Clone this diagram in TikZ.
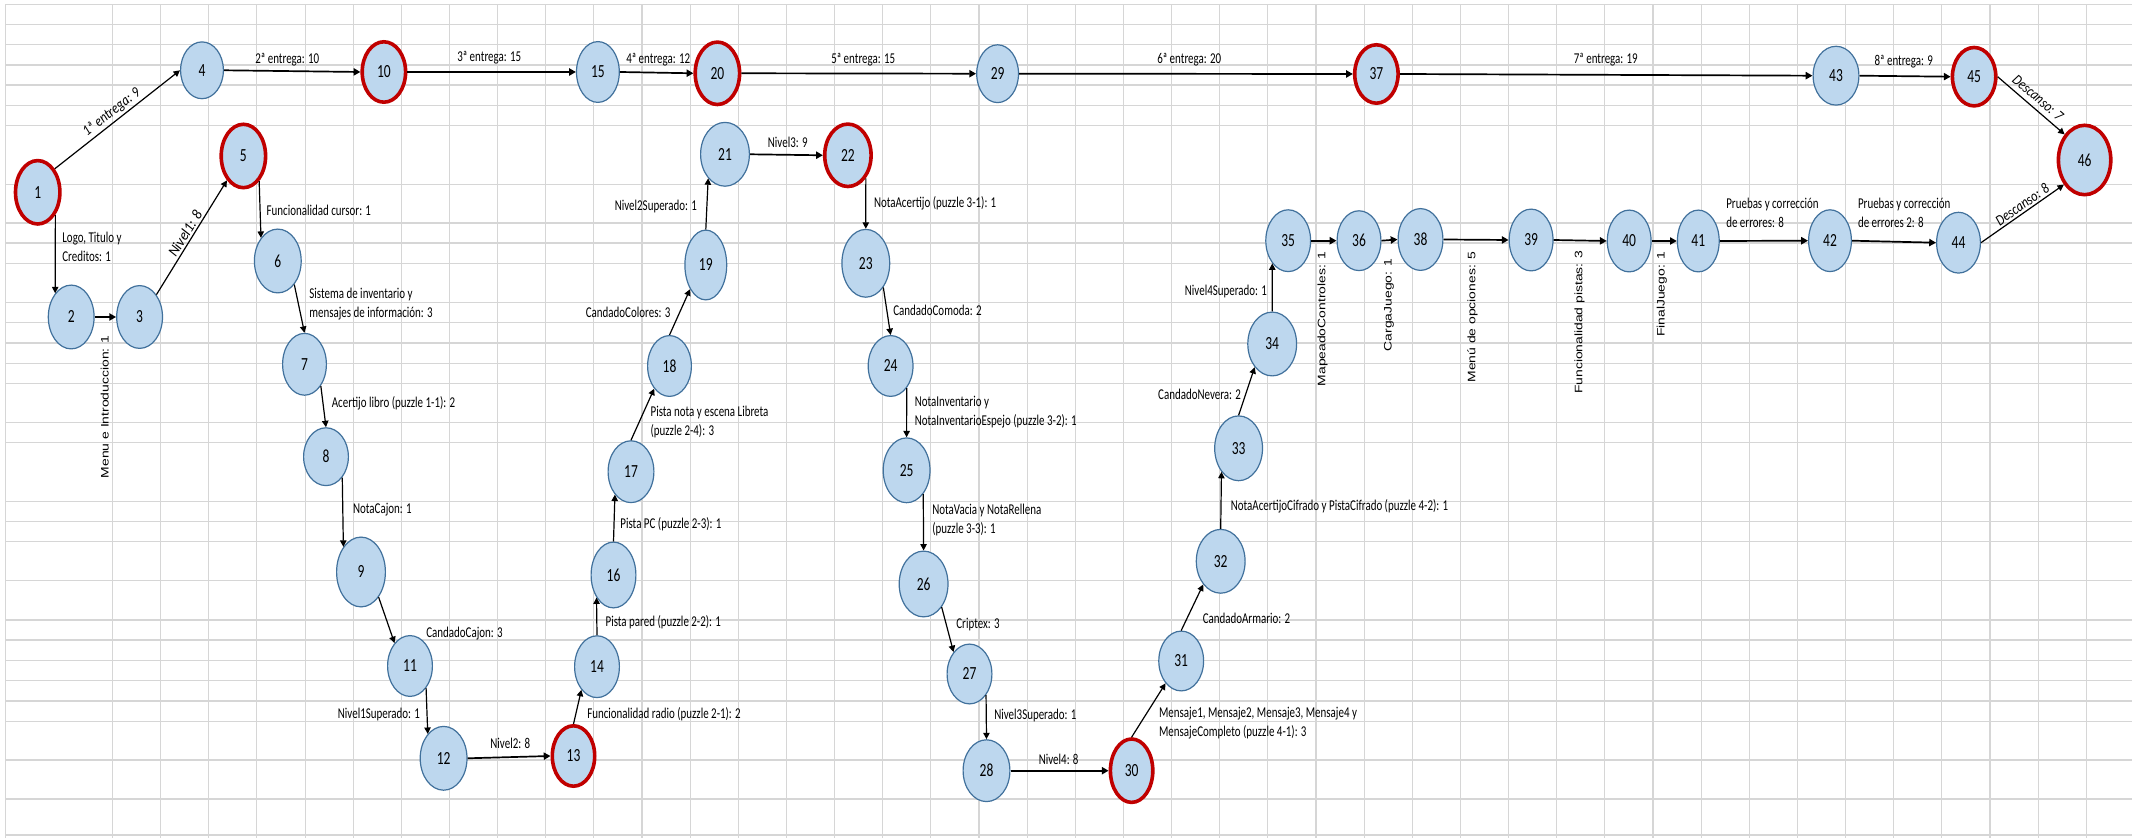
\documentclass[tikz,border=0pt]{standalone}
\usepackage{fontspec}
\setmainfont{Carlito}
\newfontfamily\rotfont{Liberation Sans}
\usetikzlibrary{arrows.meta,shapes.geometric}
\definecolor{taskfill}{RGB}{189,215,238}
\definecolor{taskline}{RGB}{65,113,156}
\definecolor{milered}{RGB}{192,0,0}
\definecolor{gridgray}{RGB}{214,214,214}
% condensed text as in the spreadsheet rendering
\newcommand\nx[1]{\scalebox{0.73}[1]{#1}}
\newcommand\vx[1]{\scalebox{1}[0.78]{#1}}
\newcommand\sx[2]{\scalebox{#1}[1]{#2}}
\begin{document}
\begin{tikzpicture}[x=0.5pt,y=-0.5pt,
  gridline/.style={draw=gridgray, line width=0.55pt},
  task/.style={ellipse, draw=taskline, fill=taskfill, line width=0.6pt,
    inner sep=0pt, font=\fontsize{9.25}{11}\selectfont},
  milestone/.style={task, draw=milered, line width=1.8pt},
  sz/.style 2 args={minimum width={#1*0.5pt-0.6pt}, minimum height={#2*0.5pt-0.6pt}},
  link/.style={draw=black, line width=0.6pt, -{Triangle[length=3.2pt,width=3.2pt]}},
  hlink/.style={link, line width=0.85pt, -{Triangle[length=3.4pt,width=3.6pt]}},
  lbl/.style={anchor=west, inner sep=0pt, align=left, font=\fontsize{7.5}{9.5}\selectfont},
  vlbl/.style={rotate=90, anchor=east, inner sep=0pt, font=\rotfont\fontsize{6.95}{8}\selectfont},
  slbl/.style={sloped, above, inner sep=1pt, font=\itshape\fontsize{7.5}{9}\selectfont}
]
\useasboundingbox (0,0) rectangle (2132,838);
\fill[white] (0,0) rectangle (2132,838);

% worksheet grid
\foreach \y in {4.3,24.3,44.3,65,85,105.3,125.7,184.3,223,243,263.3,302.3,322.7,343,363.3,383.3,422.7,442.7,501.3,521.3,541.7,580.7,620,640,660.3,680.7,701,721.3,760,799,835}
  \draw[gridline] (5.5,\y) -- (2132,\y);
\draw[gridline] (5.5,4.3) -- (5.5,838);
\foreach \k in {0,...,41}
  \draw[gridline] ({112.5+48.14*\k},4.3) -- ({112.5+48.14*\k},838);

% events
\node[milestone, sz={45.6}{64.6}] (n1) at (37.7,192.3) {\nx{1}};
\node[task, sz={47}{65}] (n2) at (71.2,317) {\nx{2}};
\node[task, sz={47}{64}] (n3) at (139.6,317) {\nx{3}};
\node[task, sz={44}{58}] (n4) at (202,70.3) {\nx{4}};
\node[milestone, sz={45.6}{64.6}] (n5) at (243.4,156) {\nx{5}};
\node[task, sz={48}{65}] (n6) at (277.8,261) {\nx{6}};
\node[task, sz={45}{63}] (n7) at (304.5,364.3) {\nx{7}};
\node[task, sz={46}{59}] (n8) at (326,456.7) {\nx{8}};
\node[task, sz={50}{71}] (n9) at (361,572) {\nx{9}};
\node[milestone, sz={44.6}{61.6}] (n10) at (383.9,72) {\nx{10}};
\node[task, sz={46}{62}] (n11) at (410,666) {\nx{11}};
\node[task, sz={48}{65}] (n12) at (443.6,758.3) {\nx{12}};
\node[milestone, sz={43.6}{61.6}] (n13) at (573.5,756) {\nx{13}};
\node[task, sz={46}{63}] (n14) at (597,666.7) {\nx{14}};
\node[task, sz={44}{62}] (n15) at (597.9,72) {\nx{15}};
\node[task, sz={46}{67}] (n16) at (613.5,575) {\nx{16}};
\node[task, sz={47}{63}] (n17) at (631,471.7) {\nx{17}};
\node[task, sz={45}{62}] (n18) at (669.5,366) {\nx{18}};
\node[task, sz={43}{71}] (n19) at (705.8,265) {\nx{19}};
\node[milestone, sz={45.6}{63.6}] (n20) at (717.4,73.3) {\nx{20}};
\node[task, sz={50}{65}] (n21) at (725,154.3) {\nx{21}};
\node[milestone, sz={47.6}{63.6}] (n22) at (847.9,155.3) {\nx{22}};
\node[task, sz={49}{69}] (n23) at (865.8,263.3) {\nx{23}};
\node[task, sz={46}{62}] (n24) at (890.6,366) {\nx{24}};
\node[task, sz={48}{66}] (n25) at (906.6,470.3) {\nx{25}};
\node[task, sz={50}{67}] (n26) at (923.6,584) {\nx{26}};
\node[task, sz={46}{61}] (n27) at (969.5,674) {\nx{27}};
\node[task, sz={48}{63}] (n28) at (986.5,770.7) {\nx{28}};
\node[task, sz={43}{59}] (n29) at (997.6,73.7) {\nx{29}};
\node[milestone, sz={43.6}{64.6}] (n30) at (1131.6,770.7) {\nx{30}};
\node[task, sz={46}{61}] (n31) at (1181.2,661) {\nx{31}};
\node[task, sz={50}{65}] (n32) at (1220.7,561.3) {\nx{32}};
\node[task, sz={49}{66}] (n33) at (1238.6,448.3) {\nx{33}};
\node[task, sz={50}{65}] (n34) at (1272.2,344) {\nx{34}};
\node[task, sz={46}{63}] (n35) at (1288.2,240.7) {\nx{35}};
\node[task, sz={45}{61}] (n36) at (1359,240.7) {\nx{36}};
\node[milestone, sz={44.6}{59.6}] (n37) at (1376.4,74) {\nx{37}};
\node[task, sz={46}{63}] (n38) at (1420.5,239.5) {\nx{38}};
\node[task, sz={45}{63}] (n39) at (1531.1,240) {\nx{39}};
\node[task, sz={45}{63}] (n40) at (1629.2,241) {\nx{40}};
\node[task, sz={43}{63}] (n41) at (1698.3,241) {\nx{41}};
\node[task, sz={44}{63}] (n42) at (1830,240.7) {\nx{42}};
\node[task, sz={47}{60}] (n43) at (1836,75.7) {\nx{43}};
\node[task, sz={45}{62}] (n44) at (1958.5,242.7) {\nx{44}};
\node[milestone, sz={44.6}{59.6}] (n45) at (1974.1,76.7) {\nx{45}};
\node[milestone, sz={53.6}{70.6}] (n46) at (2084.6,160) {\nx{46}};

% deliveries along the top
\draw[link] (n1.54) -- node[slbl] (d1) {\sx{0.85}{1ª entrega: 9}} (n4.180);
\draw[hlink] (n4.east) -- (n10.west);
\draw[hlink] (n10.east) -- (n15.west);
\draw[hlink] (n15.east) -- (n20.west);
\draw[hlink] (n20.east) -- (n29.west);
\draw[hlink] (n29.east) -- (n37.west);
\draw[hlink] (n37.east) -- (n43.west);
\draw[hlink] (n43.east) -- (n45.west);
\draw[link] (n45.east) -- node[slbl, above=1.5pt] (d9) {\sx{0.84}{Descanso: 7}} (n46.128);
\draw[link] (n44.east) -- node[slbl, pos=0.55] (d10) {\sx{0.84}{Descanso: 8}} (n46.-130);

% level 1
\draw[link] (n1.-52) -- (n2.124);
\draw[hlink] (n2.east) -- (n3.west);
\draw[link] (n3.53) -- node[slbl] (d11) {\sx{0.95}{Nivel1: 8}} (n5.-124);
\draw[link] (n5.-58) -- (n6.126);
\draw[link] (n6.-55) -- (n7.north);
\draw[link] (n7.-53) -- (n8.north);
\draw[link] (n8.-52) -- (n9.125);
\draw[link] (n9.-55) -- (n11.124);
\draw[link] (n11.-54) -- (n12.123);
\draw[hlink] (n12.east) -- (n13.west);

% level 2
\draw[link] (n13.north) -- (n14.-124);
\draw[link] (n14.north) -- (n16.-127);
\draw[link] (n16.north) -- (n17.-125);
\draw[link] (n17.north) -- (n18.-124);
\draw[link] (n18.north) -- (n19.-123);
\draw[link] (n19.north) -- (n21.-125);
\draw[hlink] (n21.east) -- (n22.west);

% level 3
\draw[link] (n22.-52) -- (n23.north);
\draw[link] (n23.-54) -- (n24.north);
\draw[link] (n24.-54) -- (n25.north);
\draw[link] (n25.-55) -- (n26.north);
\draw[link] (n26.-52) -- (n27.126);
\draw[link] (n27.-52) -- (n28.north);
\draw[hlink] (n28.east) -- (n30.west);

% level 4
\draw[link] (n30.north) -- (n31.-125);
\draw[link] (n31.north) -- (n32.-127);
\draw[link] (n32.north) -- (n33.-126);
\draw[link] (n33.north) -- (n34.-127);
\draw[link] (n34.north) -- (n35.-125);

% closing tasks
\draw[hlink] (n35.east) -- (n36.west);
\draw[hlink] (n36.east) -- (n38.west);
\draw[hlink] (n38.east) -- (n39.west);
\draw[hlink] (n39.east) -- (n40.west);
\draw[hlink] (n40.east) -- (n41.west);
\draw[hlink] (n41.east) -- (n42.west);
\draw[hlink] (n42.east) -- (n44.west);

% task labels
\node[lbl] (t1) at (62,247.2) {\nx{Logo, Titulo y}\\\nx{Creditos: 1}};
\node[lbl] (t2) at (255,59.3) {\nx{2ª entrega: 10}};
\node[lbl] (t3) at (456.9,57.3) {\nx{3ª entrega: 15}};
\node[lbl] (t4) at (625.9,60) {\nx{4ª entrega: 12}};
\node[lbl] (t5) at (830.9,59.3) {\nx{5ª entrega: 15}};
\node[lbl] (t6) at (1156.9,59.3) {\nx{6ª entrega: 20}};
\node[lbl] (t7) at (1573.5,59.3) {\nx{7ª entrega: 19}};
\node[lbl] (t8) at (1874.2,62) {\nx{8ª entrega: 9}};
\node[lbl] (t9) at (266.3,210.7) {\nx{Funcionalidad cursor: 1}};
\node[lbl] (t10) at (309,304.5) {\nx{Sistema de inventario y}\\\nx{mensajes de información: 3}};
\node[lbl] (t11) at (331.5,403.3) {\nx{Acertijo libro (puzzle 1-1): 2}};
\node[lbl] (t12) at (352.7,510) {\nx{NotaCajon: 1}};
\node[lbl] (t13) at (426,633.3) {\nx{CandadoCajon: 3}};
\node[lbl] (t14) at (337.5,714.3) {\nx{Nivel1Superado: 1}};
\node[lbl] (t15) at (490,743.3) {\nx{Nivel2: 8}};
\node[lbl] (t16) at (586.9,714.3) {\nx{Funcionalidad radio (puzzle 2-1): 2}};
\node[lbl] (t17) at (605.2,622.3) {\nx{Pista pared (puzzle 2-2): 1}};
\node[lbl] (t18) at (620,524.3) {\nx{Pista PC (puzzle 2-3): 1}};
\node[lbl] (t19) at (650.2,422) {\nx{Pista nota y escena Libreta}\\\nx{(puzzle 2-4): 3}};
\node[lbl] (t20) at (585.5,312.3) {\nx{CandadoColores: 3}};
\node[lbl] (t21) at (614.4,206.7) {\nx{Nivel2Superado: 1}};
\node[lbl] (t22) at (767.5,142.7) {\nx{Nivel3: 9}};
\node[lbl] (t23) at (873.6,203.3) {\nx{NotaAcertijo (puzzle 3-1): 1}};
\node[lbl] (t24) at (892.9,310.7) {\nx{CandadoComoda: 2}};
\node[lbl] (t25) at (914.4,411.7) {\nx{NotaInventario y}\\\nx{NotaInventarioEspejo (puzzle 3-2): 1}};
\node[lbl] (t26) at (931.9,520.2) {\nx{NotaVacia y NotaRellena}\\\nx{(puzzle 3-3): 1}};
\node[lbl] (t27) at (956,624.3) {\nx{Criptex: 3}};
\node[lbl] (t28) at (993.9,716) {\nx{Nivel3Superado: 1}};
\node[lbl] (t29) at (1038.4,759.3) {\nx{Nivel4: 8}};
\node[lbl] (t30) at (1158.7,722.8) {\nx{Mensaje1, Mensaje2, Mensaje3, Mensaje4 y}\\\nx{MensajeCompleto (puzzle 4-1): 3}};
\node[lbl] (t31) at (1202.4,618.3) {\nx{CandadoArmario: 2}};
\node[lbl] (t32) at (1230.4,506) {\nx{NotaAcertijoCifrado y PistaCifrado (puzzle 4-2): 1}};
\node[lbl] (t33) at (1157.8,394.3) {\nx{CandadoNevera: 2}};
\node[lbl] (t34) at (1184.5,291.7) {\nx{Nivel4Superado: 1}};
\node[lbl] (t35) at (1725.9,213) {\nx{Pruebas y corrección}\\\nx{de errores: 8}};
\node[lbl] (t36) at (1857.6,213) {\nx{Pruebas y corrección}\\\nx{de errores 2: 8}};

% vertical labels
\node[vlbl] (v1) at (104.7,335) {\vx{Menu e Introduccion: 1}};
\node[vlbl] (v2) at (1322.5,251.7) {\vx{MapeadoControles: 1}};
\node[vlbl] (v3) at (1389,258.3) {\vx{CargaJuego: 1}};
\node[vlbl] (v4) at (1472.5,251.7) {\vx{Menú de opciones: 5}};
\node[vlbl] (v5) at (1579.5,250) {\vx{Funcionalidad pistas: 3}};
\node[vlbl] (v6) at (1661.9,251.7) {\vx{FinalJuego: 1}};
\end{tikzpicture}
\end{document}
